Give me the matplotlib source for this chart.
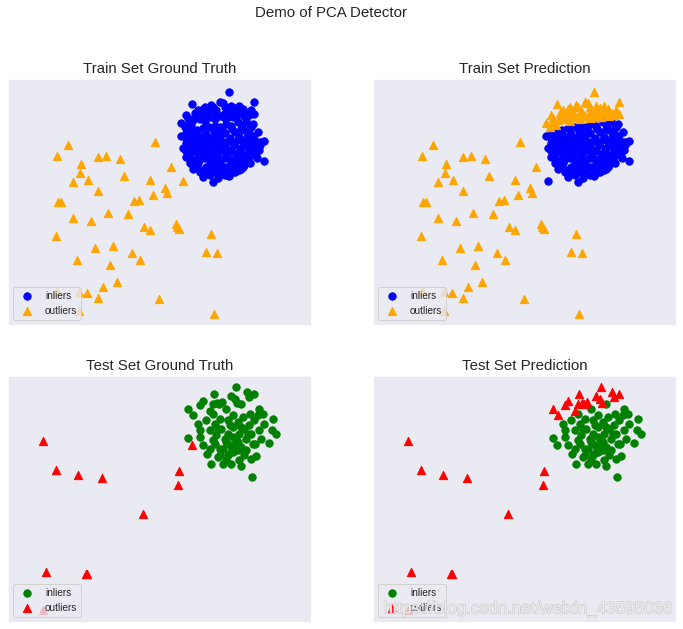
"""Demo of PCA Detector: train/test ground truth vs prediction"""
import matplotlib
matplotlib.use('Agg')
import matplotlib.pyplot as plt
import matplotlib.patheffects as pe
import seaborn as sns

# train set: true outliers
train_out_x = [2.05, 1.72, 4.65, 2.95, 3.20, 3.61, 2.44, 2.41, 2.20, 2.65,
               3.73, 5.13, 4.51, 5.49, 2.95, 4.95, 5.02, 4.60, 1.74, 1.84,
               4.03, 4.18, 2.20, 3.24, 3.85, 2.73, 4.32, 4.51, 5.30, 5.33,
               5.37, 1.68, 6.33, 2.86, 3.40, 3.97, 4.20, 6.19, 6.51, 2.32,
               3.31, 3.51, 3.10, 1.72, 2.37, 2.62, 2.94, 4.78, 2.37, 6.43]
train_out_y = [5.76, 5.42, 5.85, 5.38, 5.42, 5.33, 5.18, 4.90, 4.64, 4.70,
               4.82, 5.10, 4.70, 4.67, 4.37, 4.45, 4.30, 4.25, 4.05, 4.05,
               4.08, 4.10, 3.57, 3.70, 3.67, 3.47, 3.30, 3.21, 3.38, 3.28,
               3.23, 3.03, 3.09, 2.66, 2.73, 2.50, 2.30, 2.55, 2.50, 2.30,
               2.16, 1.63, 1.50, 1.36, 1.35, 1.32, 1.17, 1.12, 0.78, 0.69]
train_out_missed = [13]  # outliers the detector called inliers

# train set: inliers the detector kept as inliers
train_in_x = [5.45, 7.75, 7.93, 5.60, 7.70, 7.65, 5.58, 7.93, 5.80, 6.10,
              6.40, 6.88, 7.20, 7.45, 7.55, 7.50, 5.65, 5.70, 6.00, 6.30,
              6.65, 7.05, 7.35, 7.55, 7.65, 5.50, 5.90, 6.55,
              5.75, 6.10, 6.45, 6.80, 7.15, 7.40, 5.70, 5.95, 6.20, 6.50,
              6.75, 7.05, 7.30, 5.80, 6.05, 6.35, 6.60, 6.90, 7.20, 7.45,
              5.85, 6.10, 6.40, 6.65, 6.95, 7.25, 7.50, 5.90, 6.15, 6.45,
              6.75, 7.05, 7.30, 6.20, 6.50, 6.80, 7.10, 6.40, 6.75,
              5.92, 6.28, 6.62, 6.95, 7.28, 7.60,
              5.58, 5.83, 6.08, 6.35, 6.62, 6.90, 7.18, 7.42, 7.62,
              5.72, 5.98, 6.22, 6.48, 6.75, 7.02, 7.32, 7.58, 7.82,
              5.72, 5.98, 6.25, 6.52, 6.80, 7.10, 7.38, 7.70,
              5.78, 5.95, 6.30, 6.62, 6.95, 7.22, 7.52,
              6.08, 6.55, 6.90, 7.25,
              5.60, 5.88, 6.15, 6.42, 6.70, 6.98, 7.25, 7.52,
              5.70, 5.95, 6.22, 6.48, 6.78, 7.05, 7.32, 7.58, 7.82,
              5.60, 5.85, 6.12, 6.38, 6.65, 6.92, 7.22, 7.50, 7.78,
              5.70, 6.00, 6.30, 6.60, 6.90, 7.18, 7.45, 7.72,
              5.90, 6.35, 6.65, 7.00, 7.30, 6.20, 6.55, 6.95]
train_in_y = [6.02, 6.15, 5.88, 5.82, 5.72, 5.48, 5.38, 5.27, 5.02, 4.80,
              4.64, 4.83, 5.00, 5.25, 6.30, 6.10, 5.60, 5.20, 4.95, 4.85,
              4.90, 4.95, 5.15, 5.45, 5.92, 5.65, 5.08, 4.75,
              6.15, 6.25, 6.32, 6.38, 6.43, 6.48, 6.00, 6.02, 6.05, 6.08,
              6.12, 6.15, 6.20, 5.78, 5.82, 5.85, 5.80, 5.88, 5.92, 5.85,
              5.55, 5.60, 5.58, 5.62, 5.60, 5.65, 5.65, 5.30, 5.35, 5.32,
              5.35, 5.30, 5.38, 5.08, 5.12, 5.08, 5.15, 4.95, 4.85,
              6.20, 6.28, 6.30, 6.33, 6.36, 6.38,
              5.97, 5.95, 5.97, 5.96, 5.98, 5.97, 6.00, 5.98, 6.02,
              5.72, 5.70, 5.73, 5.71, 5.72, 5.74, 5.72, 5.70, 5.75,
              5.47, 5.45, 5.47, 5.46, 5.48, 5.47, 5.45, 5.50,
              5.18, 5.20, 5.22, 5.20, 5.22, 5.20, 5.22,
              5.00, 5.00, 4.98, 5.02,
              6.10, 6.12, 6.10, 6.14, 6.18, 6.22, 6.24, 6.28,
              5.85, 5.86, 5.84, 5.86, 5.85, 5.84, 5.86, 5.85, 5.83,
              5.58, 5.60, 5.58, 5.59, 5.60, 5.58, 5.60, 5.58, 5.60,
              5.33, 5.34, 5.32, 5.33, 5.34, 5.33, 5.32, 5.35,
              5.10, 5.10, 5.12, 5.10, 5.10, 4.90, 4.88, 4.92]

# train set: inliers the detector flagged as outliers
train_flag_x = [6.88, 7.65, 5.77, 6.15, 6.35, 6.60, 6.70, 6.95, 7.20, 7.05,
                5.95, 5.60, 7.43, 7.65, 5.45, 5.67, 5.80, 6.05, 6.25, 6.50,
                6.80, 7.25, 5.90, 6.20, 6.45, 6.70, 6.95, 7.15, 7.35, 5.55,
                5.75, 6.00, 6.30, 6.60, 6.85, 7.10,
                5.65, 5.85, 6.10, 6.40, 6.75, 7.00, 7.30, 7.50, 7.55, 6.15,
                6.45, 6.75, 7.00]
train_flag_y = [7.35, 7.05, 6.98, 6.90, 6.95, 7.05, 7.00, 6.92, 6.92, 6.85,
                6.80, 6.65, 6.70, 6.68, 6.40, 6.45, 6.50, 6.70, 6.75, 6.80,
                6.75, 6.70, 6.60, 6.60, 6.65, 6.65, 6.70, 6.75, 6.62, 6.30,
                6.35, 6.52, 6.58, 6.62, 6.60, 6.60,
                6.55, 6.72, 6.82, 6.88, 6.88, 6.80, 6.82, 6.65, 6.80, 6.48,
                6.52, 6.55, 6.58]

# test set: true outliers
test_out_x = [1.29, 1.69, 2.35, 3.07, 5.38, 5.35, 4.30, 1.39, 2.58, 2.63,
              1.30, 5.78]
test_out_y = [5.78, 4.91, 4.76, 4.68, 4.87, 4.46, 3.60, 1.86, 1.80, 1.78,
              0.72, 5.67]
test_out_missed = [11]

# test set: inliers kept as inliers
test_in_x = [6.80, 7.25, 7.80, 6.40, 7.90, 8.20, 7.52, 5.95, 7.95, 8.18,
             8.30, 6.00, 7.80, 5.65, 8.08, 6.10, 7.66, 6.22, 6.55, 6.80,
             7.20, 7.70, 6.35, 7.25, 7.55, 7.58, 7.00, 7.40,
             6.20, 6.60, 7.00, 7.30, 7.65, 6.30, 6.65, 7.00, 7.35, 7.55,
             6.40, 6.75, 7.10, 7.40, 6.60, 6.90, 7.25, 7.85, 6.00, 6.70,
             6.45, 6.85, 7.15, 7.50, 6.50, 6.85, 7.20, 7.60, 6.30, 6.95,
             7.10, 6.60, 7.35, 6.95, 7.75,
             6.55, 6.90, 7.25, 6.45, 6.80, 7.15, 6.70, 7.00, 7.45, 6.85,
             7.15]
test_in_y = [6.75, 6.88, 6.75, 6.60, 6.60, 6.45, 6.60, 6.30, 6.30, 6.12,
             5.98, 6.10, 6.10, 5.88, 5.73, 5.65, 5.70, 5.40, 5.30, 5.22,
             5.20, 5.32, 5.10, 5.02, 5.25, 4.70, 5.45, 5.50,
             6.40, 6.45, 6.55, 6.50, 6.40, 6.10, 6.15, 6.20, 6.15, 6.00,
             5.80, 5.85, 5.80, 5.85, 5.55, 5.65, 5.60, 5.85, 5.90, 5.10,
             6.30, 6.40, 6.35, 6.25, 5.95, 6.00, 6.00, 5.70, 5.55, 5.45,
             5.65, 5.35, 5.35, 5.10, 6.55,
             6.15, 6.25, 6.20, 5.70, 5.75, 5.75, 5.55, 5.90, 6.00, 5.35,
             5.50]

# test set: inliers flagged as outliers
test_flag_x = [7.10, 6.43, 7.43, 7.64, 6.10, 6.95, 7.05, 7.48, 6.02, 5.65,
               5.80, 6.30, 6.52, 6.68, 6.58, 7.12, 6.40]
test_flag_y = [7.40, 7.18, 7.25, 7.20, 6.98, 7.12, 7.05, 7.10, 6.85, 6.75,
               6.56, 6.68, 6.92, 6.95, 6.88, 6.92, 6.90]

xlim = (0.24, 9.35)
ylim = (0.35, 7.73)


def split(xs, ys, missed):
    hit = [(x, y) for i, (x, y) in enumerate(zip(xs, ys)) if i not in missed]
    miss = [(x, y) for i, (x, y) in enumerate(zip(xs, ys)) if i in missed]
    return hit, miss


def add_sub_plot(ax, inliers, outliers, title, in_color, out_color):
    ax.scatter([p[0] for p in inliers], [p[1] for p in inliers],
               label='inliers', color=in_color, s=54, edgecolors='face')
    ax.scatter([p[0] for p in outliers], [p[1] for p in outliers],
               label='outliers', color=out_color, s=68, marker='^',
               edgecolors='face')
    ax.set_xlim(xlim)
    ax.set_ylim(ylim)
    ax.set_title(title, fontsize=15)
    ax.set_xticks([])
    ax.set_yticks([])
    ax.legend(loc=3, prop={'size': 10}, frameon=True)


sns.set_style('darkgrid')
plt.rcParams['font.family'] = ['Liberation Sans', 'DejaVu Sans']

fig = plt.figure(figsize=(683 / 72, 629 / 72), dpi=72)
w, h = 303 / 683, 246 / 629
ax1 = fig.add_axes([8 / 683, 304 / 629, w, h])
ax2 = fig.add_axes([373 / 683, 304 / 629, w, h])
ax3 = fig.add_axes([8 / 683, 7 / 629, w, h])
ax4 = fig.add_axes([373 / 683, 7 / 629, w, h])

tr_in = list(zip(train_in_x, train_in_y))
tr_flag = list(zip(train_flag_x, train_flag_y))
tr_out = list(zip(train_out_x, train_out_y))
tr_hit, tr_miss = split(train_out_x, train_out_y, train_out_missed)

te_in = list(zip(test_in_x, test_in_y))
te_flag = list(zip(test_flag_x, test_flag_y))
te_out = list(zip(test_out_x, test_out_y))
te_hit, te_miss = split(test_out_x, test_out_y, test_out_missed)

add_sub_plot(ax1, tr_in + tr_flag, tr_out, 'Train Set Ground Truth',
             'blue', 'orange')
add_sub_plot(ax2, tr_in + tr_miss, tr_hit + tr_flag, 'Train Set Prediction',
             'blue', 'orange')
add_sub_plot(ax3, te_in + te_flag, te_out, 'Test Set Ground Truth',
             'green', 'red')
add_sub_plot(ax4, te_in + te_miss, te_hit + te_flag, 'Test Set Prediction',
             'green', 'red')

fig.suptitle('Demo of PCA Detector', fontsize=15, x=331 / 683,
             y=1 - 13 / 629, va='center')

# blog watermark
fig.text(0.985, 1 - 609 / 629, 'https://blog.csdn.net/weixin_43595036',
         ha='right', va='center', fontsize=17, color='#f2f2f2', alpha=0.85,
         path_effects=[pe.withStroke(linewidth=1.2, foreground='#c4c4c4')])

fig.savefig('out.png', dpi=72)
